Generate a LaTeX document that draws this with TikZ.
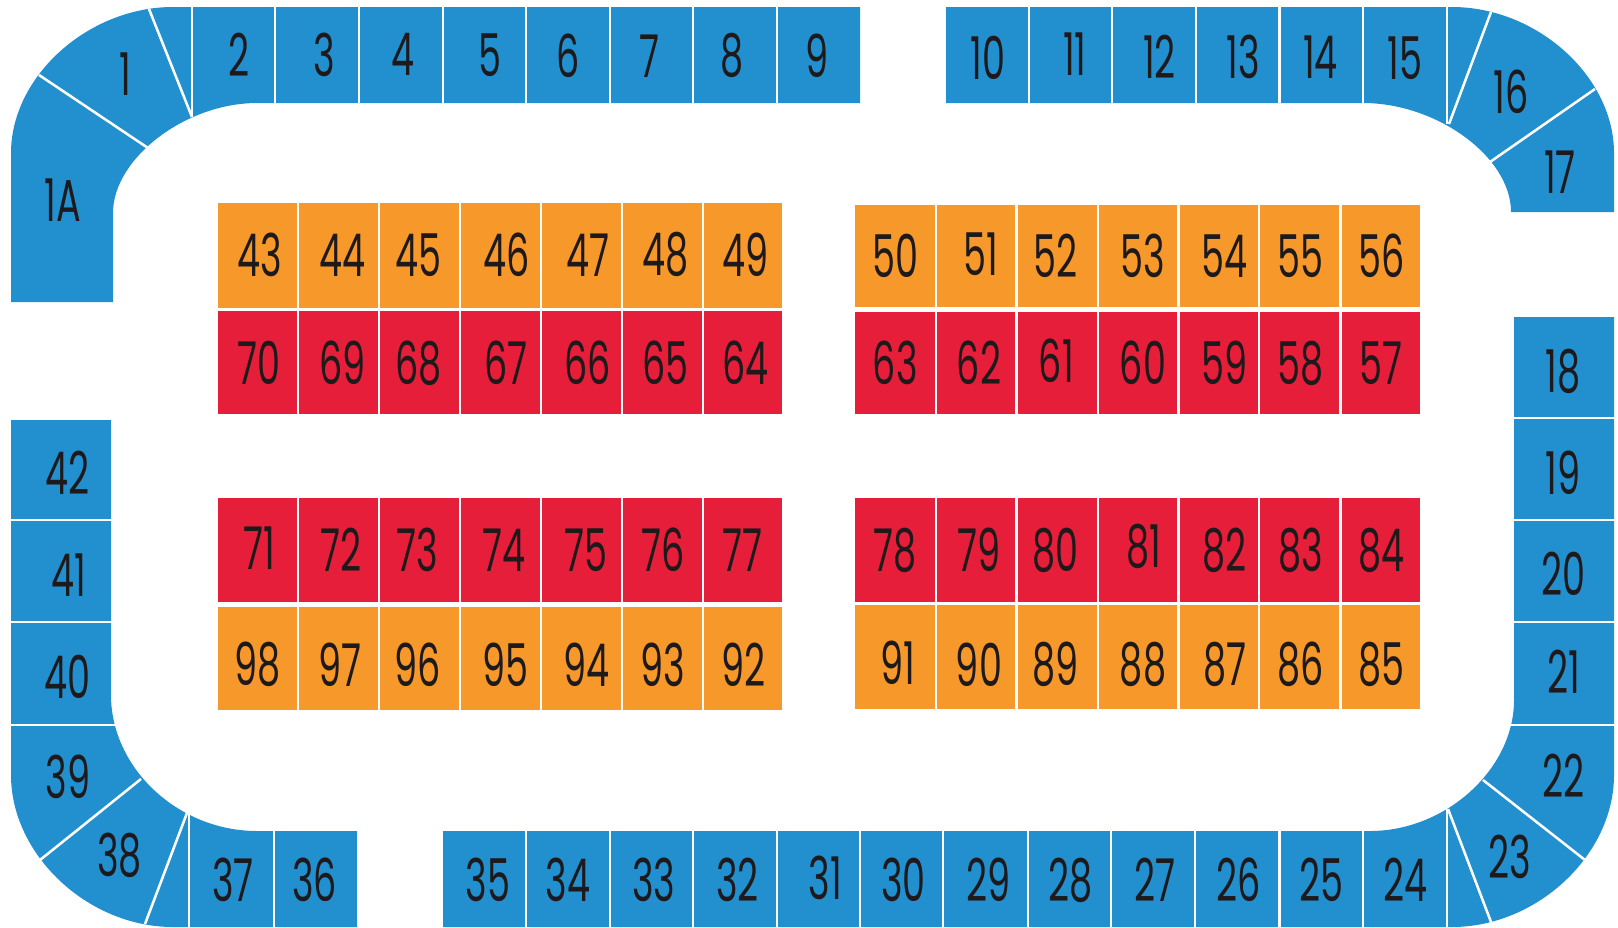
\documentclass[tikz,border=0pt]{standalone}
\usepackage{fontspec}
\newfontfamily\labfont[FakeStretch=0.62]{Poppins}
\definecolor{seatblue}{HTML}{2290CF}
\definecolor{seatorange}{HTML}{F7982A}
\definecolor{seatred}{HTML}{E61E3A}
\definecolor{ink}{HTML}{1E1A1C}
\tikzset{
  lab/.style={inner sep=0pt,outer sep=0pt,text=ink,font=\labfont\fontsize{84}{90}\selectfont},
  sep/.style={draw=white,line width=3.6pt},
  smallsep/.style={draw=white,line width=3.2pt},
}
\newcommand{\lab}[3]{\node[lab] (n#3) at ({(#1+0.7)*1.0319},{#2*1.0319}) {#3};}
\begin{document}
\begin{tikzpicture}[x=0.05cm,y=-0.05cm]
\useasboundingbox (0,0) rectangle (1618,927);
\clip (0,0) rectangle (1618,927);
% top-left ring
\fill[seatblue] (11,302) -- (11,153) .. controls (11,76.5) and (88,7) .. (173,7)
  -- (860,7) -- (860,103) -- (257,103) .. controls (185.6,103) and (113,158.4) .. (113,213) -- (113,302) -- cycle;
% top-right ring
\fill[seatblue] (946,7) -- (1452,7) .. controls (1537,7) and (1614,76.5) .. (1614,153)
  -- (1614,212) -- (1511,212) .. controls (1511,157) and (1437,103) .. (1363,103) -- (946,103) -- cycle;
% right and bottom ring
\fill[seatblue] (1514,317) -- (1614,317) -- (1614,775) .. controls (1614,855) and (1537,927) .. (1452,927)
  -- (443,927) -- (443,831) -- (1370,831) .. controls (1446,831) and (1514,769) .. (1514,700) -- cycle;
% left and bottom-left ring
\fill[seatblue] (11,420) -- (111,420) -- (111,695) .. controls (111,768) and (178,831) .. (257,831)
  -- (357,831) -- (357,927) -- (173,927) .. controls (88,927) and (11,855) .. (11,775) -- cycle;
% straight dividers, top
\foreach \x in {275,359,443,526,610,693,777}{\draw[smallsep] (\x,7) -- (\x,103);}
\foreach \x in {1029,1112,1196,1279.5,1363}{\draw[smallsep] (\x,7) -- (\x,103);}
\draw[smallsep] (192,7) -- (192,117);
\draw[smallsep] (1447,7) -- (1447,124);
% curved-corner dividers
\draw[sep] (39,75) -- (148,148);
\draw[sep] (149,9) -- (192,117);
\draw[sep] (1491,12) -- (1449,124);
\draw[sep] (1595,89) -- (1490,162);
\draw[sep] (1585,860) -- (1483,780);
\draw[sep] (1491,922) -- (1448,809);
\draw[sep] (40,860) -- (141,779);
\draw[sep] (145,924) -- (187,813);
\draw[smallsep] (1447,809) -- (1447,927);
\draw[smallsep] (189,813) -- (189,927);
% right and left dividers
\foreach \y in {418,520,622,725}{\draw[smallsep] (1505,\y) -- (1614,\y);}
\foreach \y in {520,622,725}{\draw[smallsep] (11,\y) -- (118,\y);}
% bottom dividers
\foreach \x in {526,610,693,777,860,943,1028,1111,1195,1279.5,1363}{\draw[smallsep] (\x,831) -- (\x,927);}
\draw[smallsep] (274,831) -- (274,927);
% block fills: left
\fill[seatorange] (218,203) rectangle (782,307.5);
\fill[seatred] (218,310.5) rectangle (782,414);
\fill[seatred] (218,497.5) rectangle (782,602);
\fill[seatorange] (218,606.5) rectangle (782,710);
% block fills: right
\fill[seatorange] (855,204.5) rectangle (1420,307);
\fill[seatred] (855,311.5) rectangle (1420,414);
\fill[seatred] (855,498) rectangle (1420,602);
\fill[seatorange] (855,605) rectangle (1420,709);
\foreach \x in {298,379,460,541,622,703}{\draw[smallsep] (\x,200) -- (\x,416); \draw[smallsep] (\x,495) -- (\x,712);}
\foreach \x in {936,1016.5,1098,1178.5,1259,1340.5}{\draw[smallsep] (\x,200) -- (\x,416); \draw[smallsep] (\x,495) -- (\x,712);}
% labels: blue ring
\lab{121}{72}{1}\lab{60}{194}{1A}\lab{231}{53}{2}\lab{314}{53}{3}\lab{390}{53}{4}\lab{474}{53}{5}\lab{550}{54}{6}\lab{629}{54}{7}\lab{709}{54}{8}\lab{791}{54}{9}
\lab{957}{56}{10}\lab{1041}{52}{11}\lab{1123}{55}{12}\lab{1204}{55}{13}\lab{1279}{55}{14}\lab{1361}{56}{15}\lab{1464}{89}{16}\lab{1511}{167}{17}
\lab{1514}{360}{18}\lab{1514}{458}{19}\lab{1514}{556}{20}\lab{1515}{651}{21}\lab{1514}{752}{22}\lab{1462}{830}{23}
\lab{1361}{853}{24}\lab{1280}{853}{25}\lab{1200}{853}{26}\lab{1119}{853}{27}\lab{1037}{853}{28}\lab{957}{853}{29}\lab{875}{853}{30}\lab{799}{851}{31}\lab{714}{853}{32}\lab{633}{853}{33}\lab{550}{853}{34}\lab{472}{853}{35}\lab{304}{853}{36}\lab{225}{853}{37}
\lab{115}{829}{38}\lab{65}{753}{39}\lab{65}{656}{40}\lab{66}{557}{41}\lab{65}{458}{42}
% labels: blocks
\lab{251}{247}{43}\lab{331}{247}{44}\lab{405}{247}{45}\lab{490}{247}{46}\lab{569}{247}{47}\lab{644}{247}{48}\lab{722}{247}{49}
\lab{867}{248}{50}\lab{950}{246}{51}\lab{1022}{248}{52}\lab{1107}{248}{53}\lab{1186}{248}{54}\lab{1260}{248}{55}\lab{1338}{248}{56}
\lab{250}{352}{70}\lab{331}{352}{69}\lab{405}{352}{68}\lab{490}{352}{67}\lab{569}{352}{66}\lab{644}{352}{65}\lab{722}{352}{64}
\lab{867}{352}{63}\lab{948}{352}{62}\lab{1023}{350}{61}\lab{1107}{352}{60}\lab{1186}{352}{59}\lab{1260}{352}{58}\lab{1338}{352}{57}
\lab{251}{531}{71}\lab{330}{533}{72}\lab{404}{533}{73}\lab{488}{533}{74}\lab{567}{533}{75}\lab{642}{533}{76}\lab{719}{533}{77}
\lab{867}{533}{78}\lab{948}{533}{79}\lab{1022}{533}{80}\lab{1108}{530}{81}\lab{1186}{533}{82}\lab{1260}{533}{83}\lab{1338}{533}{84}
\lab{249}{644}{98}\lab{329}{644}{97}\lab{404}{644}{96}\lab{489}{644}{95}\lab{568}{644}{94}\lab{642}{644}{93}\lab{720}{644}{92}
\lab{869}{642}{91}\lab{948}{644}{90}\lab{1022}{644}{89}\lab{1107}{644}{88}\lab{1186}{644}{87}\lab{1260}{644}{86}\lab{1338}{644}{85}
\end{tikzpicture}
\end{document}
